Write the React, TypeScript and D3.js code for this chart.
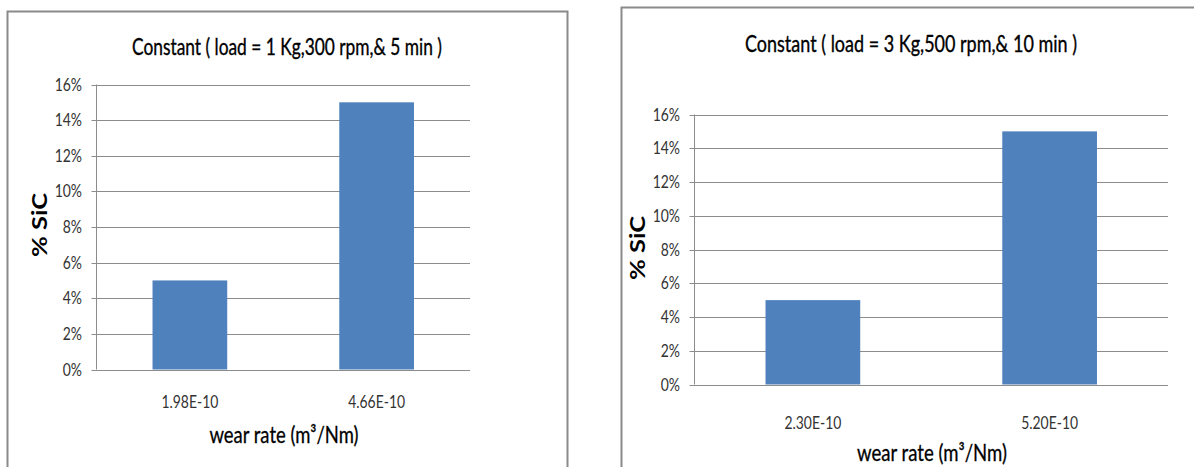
import React from "react";
import * as d3 from "d3";

// ---- data ----
const leftTitle = "Constant ( load = 1 Kg,300 rpm,& 5 min )";
const leftCategories = ["1.98E-10", "4.66E-10"];
const leftValues = [0.05, 0.15];

const rightTitle = "Constant ( load = 3 Kg,500 rpm,& 10 min )";
const rightCategories = ["2.30E-10", "5.20E-10"];
const rightValues = [0.05, 0.15];

const yTicks = [0, 0.02, 0.04, 0.06, 0.08, 0.1, 0.12, 0.14, 0.16];
const yAxisTitle = "% SiC";
const xAxisTitle = "wear rate (m³/Nm)";

// ---- layout ----
type Layout = {
  frame: { x: number; y: number; w: number; h: number };
  plot: { x0: number; x1: number; yTop: number; yBottom: number };
  titleX: number;
  titleY: number;
  titleLen: number;
  tickLabelX: number;
  catLabelY: number;
  xTitleX: number;
  xTitleY: number;
  xTitleLen: number;
  yTitleX: number;
  yTitleY: number;
};

const leftLayout: Layout = {
  frame: { x: 7.5, y: 11.5, w: 560, h: 480 },
  plot: { x0: 96.5, x1: 470, yTop: 84.5, yBottom: 369.5 },
  titleX: 287,
  titleY: 55,
  titleLen: 310,
  tickLabelX: 82,
  catLabelY: 408,
  xTitleX: 284,
  xTitleY: 443,
  xTitleLen: 149,
  yTitleX: 40,
  yTitleY: 225,
};

const rightLayout: Layout = {
  frame: { x: 621.5, y: 7.5, w: 600, h: 480 },
  plot: { x0: 694.5, x1: 1168, yTop: 114.5, yBottom: 384.5 },
  titleX: 911,
  titleY: 52,
  titleLen: 332,
  tickLabelX: 680,
  catLabelY: 429,
  xTitleX: 932,
  xTitleY: 461,
  xTitleLen: 150,
  yTitleX: 638,
  yTitleY: 248,
};

const FONT = "Lato, 'Open Sans', sans-serif";
const BAR = "#4F81BD";
const GRID = "#8c8c8c";
const FRAME = "#8a8a8a";
const TEXT_SX = 0.82;

function Panel({
  layout,
  title,
  categories,
  values,
}: {
  layout: Layout;
  title: string;
  categories: string[];
  values: number[];
}) {
  const { plot } = layout;
  const x = d3
    .scaleBand<string>()
    .domain(categories)
    .range([plot.x0, plot.x1])
    .paddingInner(0.6)
    .paddingOuter(0.3);
  const y = d3.scaleLinear().domain([0, 0.16]).range([plot.yBottom, plot.yTop]);
  const pct = d3.format(".0%");

  return (
    <g>
      <rect
        x={layout.frame.x}
        y={layout.frame.y}
        width={layout.frame.w}
        height={layout.frame.h}
        fill="#fff"
        stroke={FRAME}
        strokeWidth={2}
      />
      <text
        x={layout.titleX}
        y={layout.titleY}
        textAnchor="middle"
        fontFamily={FONT}
        fontSize={23}
        fill="#000"
        stroke="#000"
        strokeWidth={0.35}
        textLength={layout.titleLen}
        lengthAdjust="spacingAndGlyphs"
      >
        {title}
      </text>

      {/* horizontal gridlines and y ticks */}
      {yTicks.map((t) => (
        <g key={t}>
          <line
            x1={plot.x0 - 5}
            x2={plot.x1}
            y1={Math.round(y(t)) + 0.5}
            y2={Math.round(y(t)) + 0.5}
            stroke={GRID}
            strokeWidth={1}
          />
          <text
            transform={`translate(${layout.tickLabelX},${Math.round(y(t)) + 6}) scale(${TEXT_SX},1)`}
            textAnchor="end"
            fontFamily={FONT}
            fontSize={17}
            fill="#333"
          >
            {pct(t)}
          </text>
        </g>
      ))}
      <line x1={plot.x0} x2={plot.x0} y1={plot.yTop} y2={plot.yBottom} stroke={GRID} strokeWidth={1} />

      {/* bars */}
      {categories.map((c, i) => (
        <rect
          key={c}
          x={x(c)}
          y={y(values[i])}
          width={x.bandwidth()}
          height={y(0) - y(values[i])}
          fill={BAR}
        />
      ))}

      {/* category labels */}
      {categories.map((c) => (
        <text
          key={c}
          transform={`translate(${(x(c) ?? 0) + x.bandwidth() / 2},${layout.catLabelY}) scale(${TEXT_SX},1)`}
          textAnchor="middle"
          fontFamily={FONT}
          fontSize={17}
          fill="#333"
        >
          {c}
        </text>
      ))}

      <text
        x={layout.xTitleX}
        y={layout.xTitleY}
        textAnchor="middle"
        fontFamily={FONT}
        fontSize={23}
        fill="#000"
        stroke="#000"
        strokeWidth={0.3}
        textLength={layout.xTitleLen}
        lengthAdjust="spacingAndGlyphs"
      >
        {xAxisTitle}
      </text>

      <text
        transform={`translate(${layout.yTitleX + 7},${layout.yTitleY}) rotate(-90)`}
        textAnchor="middle"
        fontFamily={FONT}
        fontSize={20}
        fontWeight="bold"
        fill="#000"
        textLength={64}
        lengthAdjust="spacingAndGlyphs"
      >
        {yAxisTitle}
      </text>
    </g>
  );
}

export default function App() {
  return (
    <svg
      width={1194}
      height={467}
      style={{ position: "absolute", left: 0, top: 0, display: "block", background: "#fff" }}
    >
      <rect width={1194} height={467} fill="#fff" />
      <Panel layout={leftLayout} title={leftTitle} categories={leftCategories} values={leftValues} />
      <Panel layout={rightLayout} title={rightTitle} categories={rightCategories} values={rightValues} />
    </svg>
  );
}
